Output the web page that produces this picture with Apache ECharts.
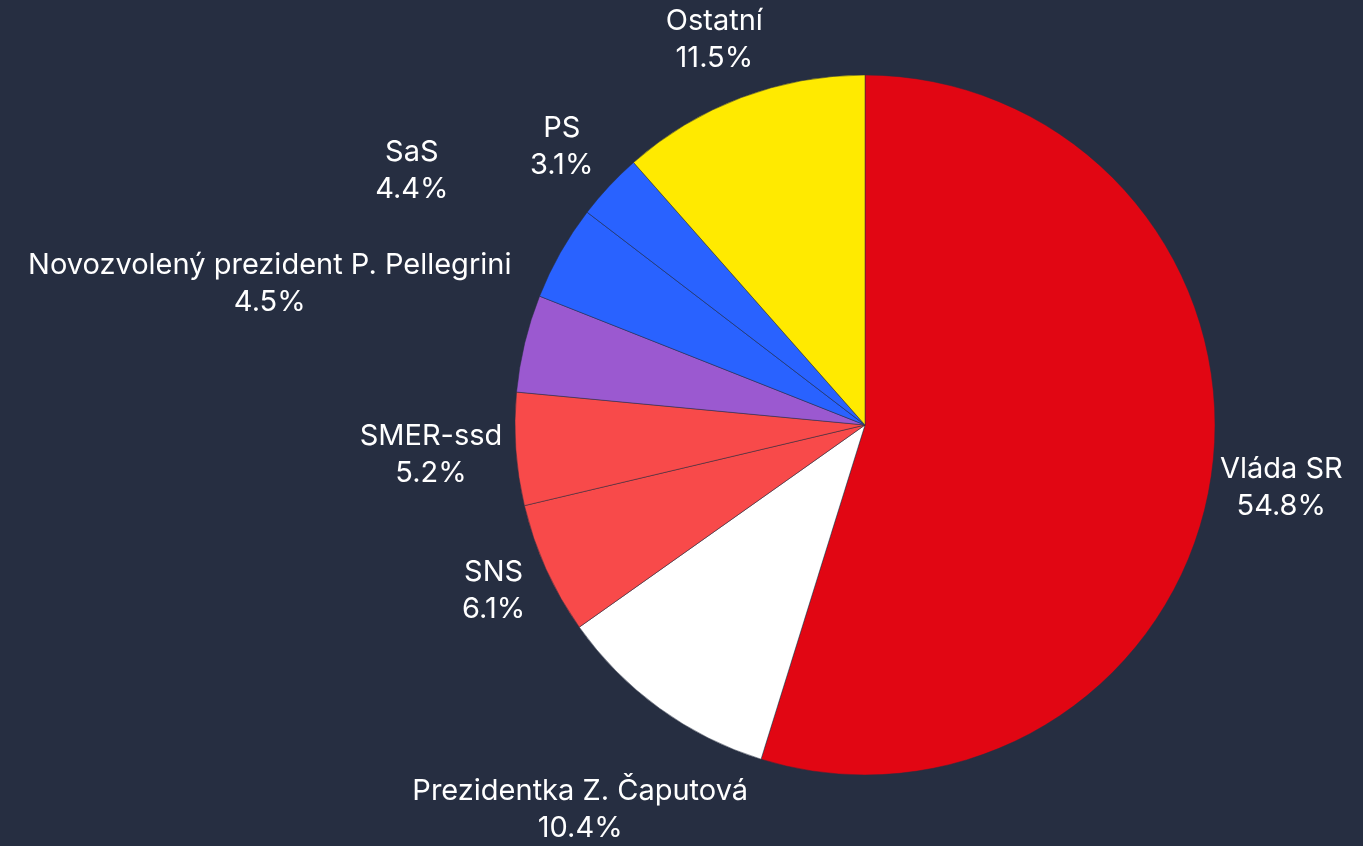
<!DOCTYPE html>
<html>
<head>
<meta charset="utf-8">
<script src="https://cdn.jsdelivr.net/npm/echarts@6/dist/echarts.min.js"></script>
<style>
  html, body { margin: 0; padding: 0; background: #262e41; }
  #main { width: 1363px; height: 846px; }
</style>
</head>
<body>
<div id="main"></div>
<script>
// data
var names = ['Vláda SR', 'Prezidentka Z. Čaputová', 'SNS', 'SMER-ssd',
  'Novozvolený prezident P. Pellegrini', 'SaS', 'PS', 'Ostatní'];
var shares = [54.8, 10.4, 6.1, 5.2, 4.5, 4.4, 3.1, 11.5];
var colors = ['#e10613', '#ffffff', '#f84a4a', '#f84a4a', '#9b59d0', '#2962ff', '#2962ff', '#ffea00'];

// how far each label sits out from the pie edge
var labelDist = [66, 126, 52, 80, 257, 165, 58, 62];

var myChart = echarts.init(document.getElementById('main'));

var seriesData = names.map(function (n, i) {
  return {
    name: n,
    value: shares[i],
    itemStyle: { color: colors[i] },
    labelLine: { length: labelDist[i], length2: 0 }
  };
});

var option = {
  backgroundColor: '#262e41',
  animation: false,
  series: [{
    type: 'pie',
    center: [865, 425],
    radius: 350,
    startAngle: 90,
    clockwise: true,
    avoidLabelOverlap: false,
    data: seriesData,
    itemStyle: { borderColor: '#262e41', borderWidth: 0.5 },
    label: {
      show: true,
      position: 'outside',
      alignTo: 'none',
      formatter: '{n|{b}}\n{n|{c}%}',
      rich: {
        n: { color: '#ffffff', fontSize: 29, lineHeight: 37, align: 'center', fontFamily: 'Inter' }
      }
    },
    labelLine: { show: false },
    labelLayout: function () {
      return { align: 'center', verticalAlign: 'middle' };
    }
  }]
};

myChart.setOption(option);
</script>
</body>
</html>
